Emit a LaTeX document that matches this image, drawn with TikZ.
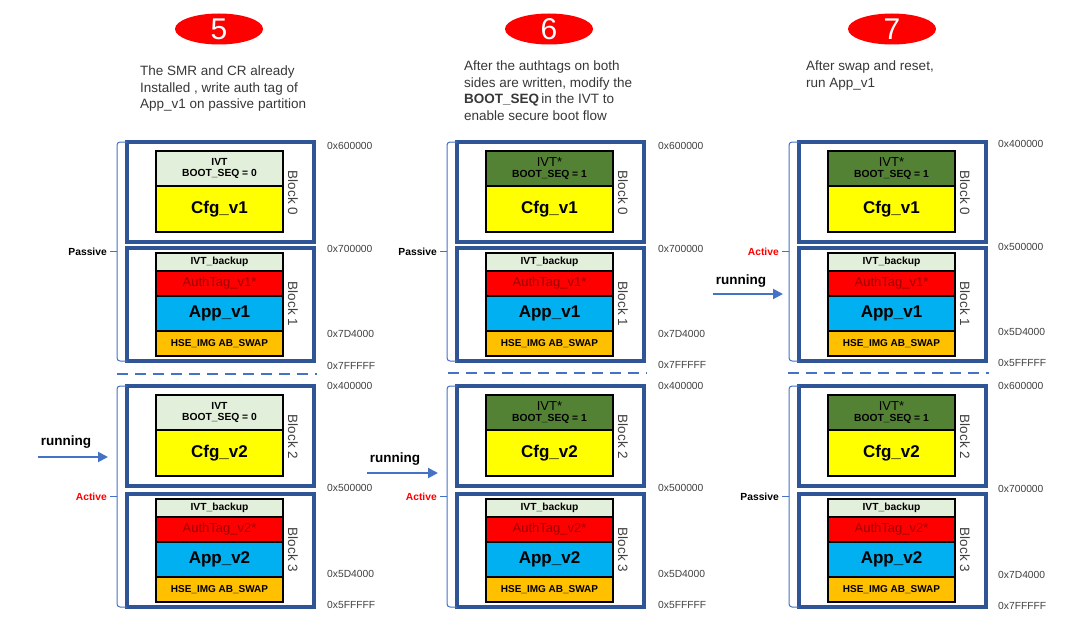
\documentclass[tikz,border=0pt]{standalone}
\usepackage{fontspec}
\setmainfont{Liberation Sans}
\usetikzlibrary{shapes.geometric,arrows.meta,calc}
\definecolor{boxblue}{HTML}{2F5597}
\definecolor{lineblue}{HTML}{4472C4}
\definecolor{ivtlight}{HTML}{E2EFDA}
\definecolor{ivtdark}{HTML}{548235}
\definecolor{cfgyellow}{HTML}{FFFF00}
\definecolor{authred}{HTML}{FF0000}
\definecolor{authtext}{HTML}{A00000}
\definecolor{appblue}{HTML}{00B0F0}
\definecolor{hseorange}{HTML}{FFC000}
\definecolor{greytext}{HTML}{404040}
\definecolor{hdrtext}{HTML}{383838}
\definecolor{ovalred}{HTML}{FF0000}
\definecolor{activered}{HTML}{FF0000}

\newcommand\cfgblock[7]{%
  \begin{scope}[shift={(#2,#3)}]
    \node[outerbox, minimum height=100pt] (#1box) at (0,0) {};
    \node[cell, #4, minimum height=35pt] (#1ivt) at (29,9) {#5};
    \node[cell, fill=cfgyellow, font=\bigbold, minimum height=46pt] (#1cfg) at (29,44) {#6};
    \node[blocklab] (#1lab) at (166,51) {#7};
  \end{scope}}

\newcommand\appblock[6]{%
  \begin{scope}[shift={(#2,#3)}]
    \node[outerbox, minimum height=113pt] (#1box) at (0,0) {};
    \node[cell, ivtbcell, minimum height=18pt] (#1ivtb) at (29,5) {IVT\_backup};
    \node[cell, authcell, minimum height=25pt] (#1auth) at (29,23) {#4};
    \node[cell, fill=appblue, font=\bigbold, minimum height=35pt] (#1app) at (29,48) {#5};
    \node[cell, hsecell, minimum height=25pt] (#1hse) at (29,83) {HSE\_IMG AB\_SWAP};
    \node[blocklab] (#1lab) at (166,56) {#6};
  \end{scope}}

\newcommand\bigbold{\fontsize{17}{20}\selectfont\bfseries}

\begin{document}
\begin{tikzpicture}[x=1pt,y=-1pt,
  outerbox/.style={draw=boxblue, line width=3.2pt, anchor=north west, minimum width=187pt, inner sep=0pt, outer sep=0pt},
  cell/.style={draw=black, line width=1.2pt, anchor=north west, minimum width=127pt, inner sep=0pt, outer sep=0pt, align=center},
  ivtL/.style={fill=ivtlight, font=\fontsize{10.3}{11}\selectfont\bfseries},
  ivtD/.style={fill=ivtdark, font=\fontsize{10.3}{11}\selectfont\bfseries},
  ivtbcell/.style={fill=ivtlight, font=\fontsize{10.3}{12}\selectfont\bfseries},
  authcell/.style={fill=authred, text=authtext, font=\fontsize{13}{15}\selectfont},
  hsecell/.style={fill=hseorange, font=\fontsize{10}{12}\selectfont\bfseries},
  blocklab/.style={rotate=-90, text=greytext, font=\fontsize{13.5}{15}\selectfont, inner sep=0pt},
  addr/.style={anchor=west, text=greytext, font=\fontsize{10.3}{12}\selectfont, inner sep=0pt},
  bracestyle/.style={draw=lineblue, line width=1pt, rounded corners=3pt},
  sepline/.style={draw=lineblue, line width=2pt, dash pattern=on 11pt off 7pt},
  runarrow/.style={draw=lineblue, line width=2pt, -{Triangle[length=10pt,width=10pt]}},
  runlab/.style={font=\fontsize{13.5}{15}\selectfont\bfseries, inner sep=0pt},
  passivelab/.style={font=\fontsize{10.3}{12}\selectfont\bfseries, inner sep=0pt, anchor=east},
  activelab/.style={passivelab, text=activered},
  numoval/.style={ellipse, fill=ovalred, minimum width=88pt, minimum height=31pt, inner sep=0pt, text=white, font=\fontsize{30}{30}\selectfont},
  hdr/.style={anchor=north west, align=left, inner sep=0pt, text=hdrtext, font=\fontsize{13.5}{16.5}\selectfont}
]
\useasboundingbox (0,0) rectangle (1090,634);
\fill[white] (0,0) rectangle (1090,634);

% ---------- headers ----------
\node[numoval] (n5) at (219,29) {5};
\node[numoval] (n6) at (549,29) {6};
\node[numoval] (n7) at (892,29) {7};

\node[hdr] (h5) at (140,66) {The SMR and CR already\\Installed , write auth tag of\\App\_v1 on passive partition};
\node[hdr] (h6) at (464,61) {After the authtags on both\\sides are written, modify the\\\textbf{BOOT\_SEQ}\,in the IVT to\\enable secure boot flow};
\node[hdr] (h7) at (806,61) {After swap and reset,\\run App\_v1};

% ---------- column 1 ----------
\cfgblock{ca0}{127}{142}{ivtL}{IVT\\BOOT\_SEQ = 0}{Cfg\_v1}{Block 0}
\appblock{ca1}{127}{248}{AuthTag\_v1*}{App\_v1}{Block 1}
\cfgblock{ca2}{127}{386}{ivtL}{IVT\\BOOT\_SEQ = 0}{Cfg\_v2}{Block 2}
\appblock{ca3}{127}{494}{AuthTag\_v2*}{App\_v2}{Block 3}

% ---------- column 2 ----------
\cfgblock{cb0}{457}{142}{ivtD}{{\fontsize{13}{13}\selectfont\mdseries IVT*}\\BOOT\_SEQ = 1}{Cfg\_v1}{Block 0}
\appblock{cb1}{457}{248}{AuthTag\_v1*}{App\_v1}{Block 1}
\cfgblock{cb2}{457}{386}{ivtD}{{\fontsize{13}{13}\selectfont\mdseries IVT*}\\BOOT\_SEQ = 1}{Cfg\_v2}{Block 2}
\appblock{cb3}{457}{494}{AuthTag\_v2*}{App\_v2}{Block 3}

% ---------- column 3 ----------
\cfgblock{cc0}{799}{142}{ivtD}{{\fontsize{13}{13}\selectfont\mdseries IVT*}\\BOOT\_SEQ = 1}{Cfg\_v1}{Block 0}
\appblock{cc1}{799}{248}{AuthTag\_v1*}{App\_v1}{Block 1}
\cfgblock{cc2}{799}{386}{ivtD}{{\fontsize{13}{13}\selectfont\mdseries IVT*}\\BOOT\_SEQ = 1}{Cfg\_v2}{Block 2}
\appblock{cc3}{799}{494}{AuthTag\_v2*}{App\_v2}{Block 3}

% ---------- addresses ----------
\node[addr] (a1) at (327,146) {0x600000};
\node[addr] (a2) at (327,249) {0x700000};
\node[addr] (a3) at (327,334) {0x7D4000};
\node[addr] (a4) at (327,366) {0x7FFFFF};
\node[addr] (a5) at (327,386) {0x400000};
\node[addr] (a6) at (327,488) {0x500000};
\node[addr] (a7) at (327,574) {0x5D4000};
\node[addr] (a8) at (327,605) {0x5FFFFF};

\node[addr] (b1) at (658,146) {0x600000};
\node[addr] (b2) at (658,249) {0x700000};
\node[addr] (b3) at (658,334) {0x7D4000};
\node[addr] (b4) at (658,365) {0x7FFFFF};
\node[addr] (b5) at (658,386) {0x400000};
\node[addr] (b6) at (658,488) {0x500000};
\node[addr] (b7) at (658,574) {0x5D4000};
\node[addr] (b8) at (658,605) {0x5FFFFF};

\node[addr] (d1) at (998,144) {0x400000};
\node[addr] (d2) at (998,247) {0x500000};
\node[addr] (d3) at (998,332) {0x5D4000};
\node[addr] (d4) at (998,363) {0x5FFFFF};
\node[addr] (d5) at (998,386) {0x600000};
\node[addr] (d6) at (998,489) {0x700000};
\node[addr] (d7) at (998,575) {0x7D4000};
\node[addr] (d8) at (998,606) {0x7FFFFF};

% ---------- brackets and labels ----------
\foreach \c/\top/\bot/\lab/\sty in {ca/0/1/Passive/passivelab, ca/2/3/Active/activelab,
                                    cb/0/1/Passive/passivelab, cb/2/3/Active/activelab,
                                    cc/0/1/Active/activelab, cc/2/3/Passive/passivelab}{
  \draw[bracestyle] (\c\top box.north west) -- ++(-10,0) |- (\c\bot box.south west);
  \coordinate (\c\top br) at ($(\c\top box.north west)!0.5!(\c\bot box.south west)+(-10,0)$);
  \coordinate (\c\top tk) at ($(\c\top br)+(-7,0)$);
  \draw[bracestyle] (\c\top br) -- (\c\top tk);
  \node[\sty] (\c\top pl) at ($(\c\top tk)+(-3,0)$) {\lab};
}

% ---------- separators ----------
\coordinate (s1a) at (117,374); \coordinate (s1b) at (317,374);
\coordinate (s2a) at (448,373); \coordinate (s2b) at (647,373);
\coordinate (s3a) at (788,373); \coordinate (s3b) at (989,373);
\draw[sepline] (s1a) -- (s1b);
\draw[sepline] (s2a) -- (s2b);
\draw[sepline] (s3a) -- (s3b);

% ---------- running arrows ----------
\coordinate (r1s) at (38,457);  \coordinate (r1e) at (108,457);
\coordinate (r2s) at (367,473); \coordinate (r2e) at (438,473);
\coordinate (r3s) at (713,294); \coordinate (r3e) at (783,294);
\draw[runarrow] (r1s) -- (r1e);
\draw[runarrow] (r2s) -- (r2e);
\draw[runarrow] (r3s) -- (r3e);
\node[runlab] (r1l) at (66,442) {running};
\node[runlab] (r2l) at (395,459) {running};
\node[runlab] (r3l) at (741,281) {running};
\end{tikzpicture}
\end{document}
